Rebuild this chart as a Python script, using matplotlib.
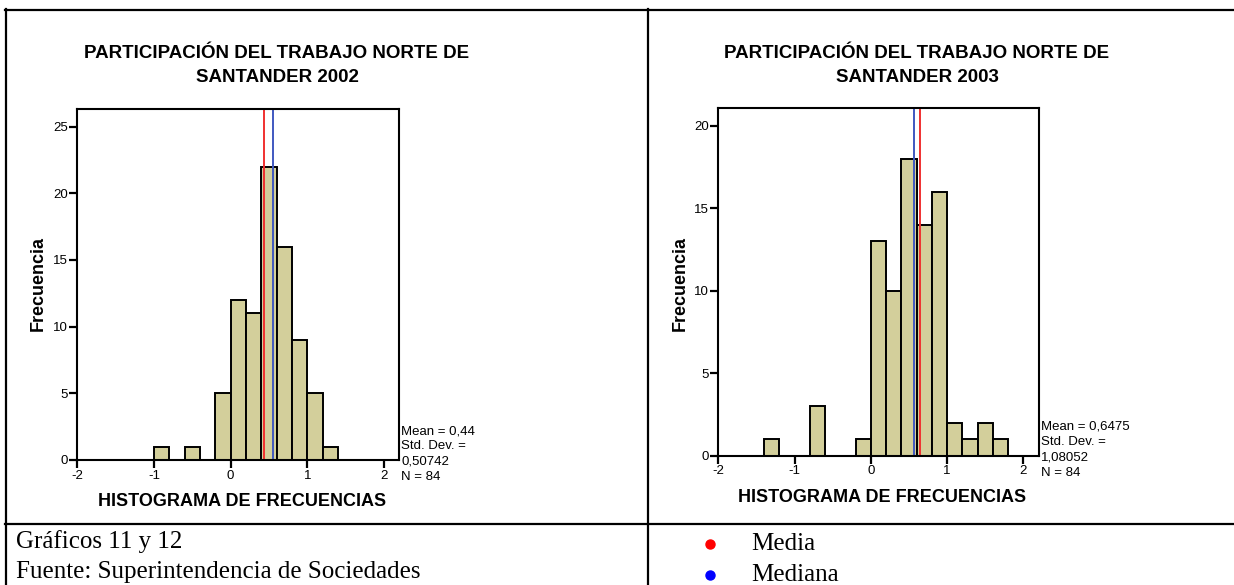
import matplotlib
matplotlib.use("Agg")
import matplotlib.pyplot as plt
from matplotlib.lines import Line2D
import numpy as np

# histogram counts, bins of width 0.2 starting at the listed left edges
bins_2002 = [-1.0, -0.8, -0.6, -0.4, -0.2, 0.0, 0.2, 0.4, 0.6, 0.8, 1.0, 1.2]
freq_2002 = [1, 0, 1, 0, 5, 12, 11, 22, 16, 9, 5, 1]
mean_2002 = 0.44
median_2002 = 0.55
stats_2002 = ["Mean = 0,44", "Std. Dev. =", "0,50742", "N = 84"]

bins_2003 = [-1.4, -1.2, -1.0, -0.8, -0.6, -0.4, -0.2, 0.0, 0.2, 0.4, 0.6,
             0.8, 1.0, 1.2, 1.4, 1.6]
freq_2003 = [1, 0, 0, 3, 0, 0, 1, 13, 10, 18, 14, 16, 2, 1, 2, 1]
mean_2003 = 0.6475
median_2003 = 0.56
stats_2003 = ["Mean = 0,6475", "Std. Dev. =", "1,08052", "N = 84"]

bin_width = 0.2
x_ticks = [-2, -1, 0, 1, 2]

W, H = 1234, 585
fig = plt.figure(figsize=(W / 100, H / 100), dpi=100)
fig.patch.set_facecolor("white")

SANS = ["Liberation Sans", "DejaVu Sans"]
SERIF = ["Liberation Serif", "DejaVu Serif"]

BAR = "#D3CF9B"
RED = "#F03030"
BLUE = "#4058C0"


def px_axes(left, top, right, bottom):
    return fig.add_axes([left / W, 1 - bottom / H, (right - left) / W, (bottom - top) / H])


def px_text(x, y, s, **kw):
    fig.text(x / W, 1 - y / H, s, **kw)


def px_line(x0, y0, x1, y1, lw=1.6):
    fig.add_artist(Line2D([x0 / W, x1 / W], [1 - y0 / H, 1 - y1 / H],
                          transform=fig.transFigure, color="black", lw=lw))


def draw_hist(box, bins, freq, mean, median, ytop, yticks, title, title_x,
              ylabel_x, xlabel_x, xlabel_y, stats):
    ax = px_axes(*box)
    ax.bar(bins, freq, width=bin_width, align="edge", color=BAR,
           edgecolor="black", linewidth=1.4, zorder=2)
    ax.axvline(mean, color=RED, lw=1.4, zorder=3)
    ax.axvline(median, color=BLUE, lw=1.4, zorder=3)
    ax.set_xlim(-2, 2.2)
    ax.set_ylim(0, ytop)
    ax.set_xticks(x_ticks)
    ax.set_xticklabels([str(t) for t in x_ticks])
    ax.set_yticks(yticks)
    for s in ax.spines.values():
        s.set_linewidth(1.5)
        s.set_zorder(4)
    ax.tick_params(axis="both", length=6, width=1.6, pad=1, labelsize=9.5,
                   direction="out")
    for lab in ax.get_xticklabels() + ax.get_yticklabels():
        lab.set_family(SANS)

    left, top, right, bottom = box
    line1, line2 = title.split("\n")
    px_text(title_x, 53, line1, ha="center", va="center",
            fontsize=13.5, fontweight="bold", family=SANS)
    px_text(title_x, 78, line2, ha="center", va="center",
            fontsize=13.5, fontweight="bold", family=SANS)
    px_text(ylabel_x, 283, "Frecuencia", ha="center", va="center",
            rotation=90, fontsize=13, fontweight="bold", family=SANS)
    px_text(xlabel_x, xlabel_y, "HISTOGRAMA DE FRECUENCIAS", ha="center",
            va="center", fontsize=13, fontweight="bold", family=SANS)
    for i, line in enumerate(stats):
        px_text(right + 2, bottom - 29 + i * 15.3, line, ha="left",
                va="center", fontsize=9.5, family=SANS)
    return ax


draw_hist((77.3, 109.3, 399.3, 460.0), bins_2002, freq_2002, mean_2002,
          median_2002, 26.3, [0, 5, 10, 15, 20, 25],
          "PARTICIPACIÓN DEL TRABAJO NORTE DE\nSANTANDER 2002", 277,
          38, 242, 502, stats_2002)

draw_hist((718.3, 108.3, 1038.7, 455.7), bins_2003, freq_2003, mean_2003,
          median_2003, 21.05, [0, 5, 10, 15, 20],
          "PARTICIPACIÓN DEL TRABAJO NORTE DE\nSANTANDER 2003", 917,
          680, 882, 498, stats_2003)

# table rules
px_line(5, 10, 1234, 10)
px_line(6, 9, 6, 585)
px_line(648, 9, 648, 585)
px_line(5, 524, 1234, 524)

# footer cells
px_text(16, 542, "Gráficos 11 y 12", ha="left", va="center", fontsize=18,
        family=SERIF)
px_text(16, 572, "Fuente: Superintendencia de Sociedades", ha="left",
        va="center", fontsize=18, family=SERIF)

fig.add_artist(Line2D([710 / W], [1 - 544 / H], marker="o", color="#FF0000",
                      markersize=6.5, linestyle="none",
                      transform=fig.transFigure))
fig.add_artist(Line2D([710 / W], [1 - 575 / H], marker="o", color="#0000FF",
                      markersize=6.5, linestyle="none",
                      transform=fig.transFigure))
px_text(751, 544, "Media", ha="left", va="center", fontsize=18, family=SERIF)
px_text(751, 575, "Mediana", ha="left", va="center", fontsize=18,
        family=SERIF)

fig.savefig("out.png", dpi=100, facecolor="white")
